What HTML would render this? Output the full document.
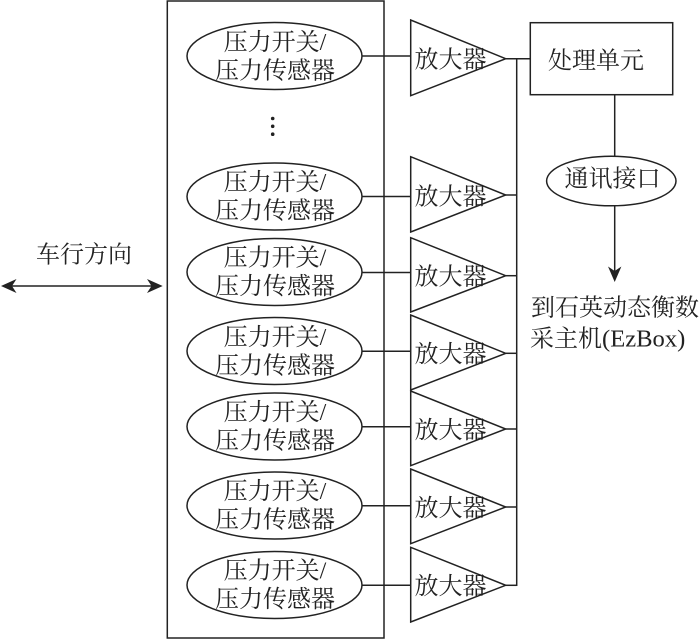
<!DOCTYPE html>
<html><head><meta charset="utf-8">
<style>html,body{margin:0;padding:0;background:#fff}svg{display:block}
text{font-family:"Liberation Serif","Noto Serif CJK SC",serif;font-size:24px;fill:#222;text-anchor:middle}
.l{fill:none;stroke:#222;stroke-width:1.5}</style>
</head><body>
<svg width="700" height="639" viewBox="0 0 700 639" xmlns="http://www.w3.org/2000/svg">
<rect class="l" x="167.3" y="1" width="216.7" height="637"/>

<!-- sensors -->
<g class="l">
<ellipse cx="274.5" cy="56" rx="87.5" ry="33.5"/><line x1="362" y1="56" x2="410.7" y2="56"/>
<ellipse cx="274.5" cy="196.5" rx="87.5" ry="33.5"/><line x1="362" y1="196.5" x2="410.7" y2="196.5"/>
<ellipse cx="274.5" cy="272" rx="87.5" ry="33.5"/><line x1="362" y1="272.5" x2="410.7" y2="272.5"/>
<ellipse cx="274.5" cy="351" rx="87.5" ry="33.5"/><line x1="362" y1="351.3" x2="410.7" y2="351.3"/>
<ellipse cx="274.5" cy="426.5" rx="87.5" ry="33.5"/><line x1="362" y1="426.7" x2="410.7" y2="426.7"/>
<ellipse cx="274.5" cy="505.5" rx="87.5" ry="33.5"/><line x1="362" y1="505.7" x2="410.7" y2="505.7"/>
<ellipse cx="274.5" cy="585" rx="87.5" ry="33.5"/><line x1="362" y1="585.3" x2="410.7" y2="585.3"/>
</g>
<text x="275" y="50">压力开关/</text><text x="275" y="78.5">压力传感器</text>
<text x="275" y="190">压力开关/</text><text x="275" y="218.5">压力传感器</text>
<text x="275" y="265.5">压力开关/</text><text x="275" y="294">压力传感器</text>
<text x="275" y="345">压力开关/</text><text x="275" y="373.5">压力传感器</text>
<text x="275" y="420">压力开关/</text><text x="275" y="448.5">压力传感器</text>
<text x="275" y="499">压力开关/</text><text x="275" y="527.5">压力传感器</text>
<text x="275" y="578.5">压力开关/</text><text x="275" y="607">压力传感器</text>

<!-- amplifiers -->
<g class="l">
<polygon points="410.7,20 410.7,95.7 505.7,58.7"/><line x1="505.7" y1="58.7" x2="530" y2="58.7"/>
<polygon points="410.7,156.7 410.7,232 505.7,195"/><line x1="505.7" y1="195" x2="516.7" y2="195"/>
<polygon points="410.7,237.7 410.7,312 505.7,275.7"/><line x1="505.7" y1="275.7" x2="516.7" y2="275.7"/>
<polygon points="410.7,315 410.7,390 505.7,353.3"/><line x1="505.7" y1="353.3" x2="516.7" y2="353.3"/>
<polygon points="410.7,391 410.7,465.7 505.7,429"/><line x1="505.7" y1="429" x2="516.7" y2="429"/>
<polygon points="410.7,469 410.7,543.7 505.7,507"/><line x1="505.7" y1="507" x2="516.7" y2="507"/>
<polygon points="410.7,547.3 410.7,622 505.7,585.3"/><line x1="505.7" y1="585.3" x2="516.7" y2="585.3"/>
<line x1="516.7" y1="58" x2="516.7" y2="586"/>
</g>
<text x="450.5" y="67.5">放大器</text>
<text x="450.5" y="204.5">放大器</text>
<text x="450.5" y="284.5">放大器</text>
<text x="450.5" y="362">放大器</text>
<text x="450.5" y="438">放大器</text>
<text x="450.5" y="516">放大器</text>
<text x="450.5" y="594">放大器</text>

<circle cx="272.7" cy="118.5" r="1.8" fill="#222"/>
<circle cx="272.7" cy="126.3" r="1.8" fill="#222"/>
<circle cx="272.7" cy="134.2" r="1.8" fill="#222"/>

<!-- right column -->
<rect class="l" x="530.3" y="22.7" width="142.4" height="72"/>
<text x="596" y="68.5">处理单元</text>
<line class="l" x1="614.7" y1="95" x2="614.7" y2="156"/>
<ellipse class="l" cx="611.3" cy="181" rx="64.7" ry="24.8"/>
<text x="612.5" y="186.5">通讯接口</text>
<line class="l" x1="614.7" y1="206" x2="614.7" y2="274"/>
<path d="M614.7,282 L608,266.5 L614.7,271 L621.4,266.5 Z" fill="#222"/>
<text x="615" y="315.5">到石英动态衡数</text>
<text x="530" y="346.5" style="text-anchor:start">采主机<tspan style="font-size:24.6px">(EzBox)</tspan></text>

<!-- left arrow -->
<line class="l" x1="8" y1="286" x2="156" y2="286"/>
<path d="M1,286 L16.5,279 L12,286 L16.5,293 Z" fill="#222"/>
<path d="M162.7,286 L147,279 L151.5,286 L147,293 Z" fill="#222"/>
<text x="84" y="262.5">车行方向</text>
</svg>
</body></html>
